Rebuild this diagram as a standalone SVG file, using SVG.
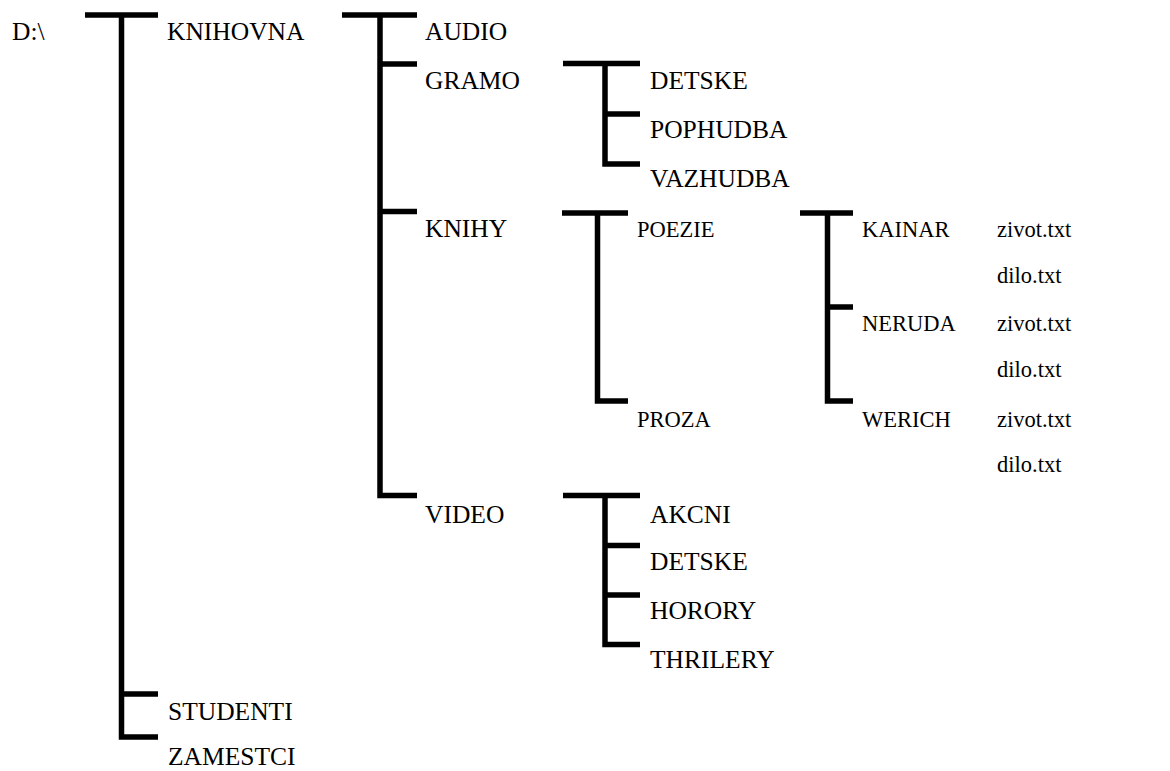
<svg xmlns="http://www.w3.org/2000/svg" width="1170" height="771" viewBox="0 0 1170 771">
  <style>
    .lbl { font-family: 'Liberation Serif', 'Times New Roman', Tinos, 'DejaVu Serif', serif; font-size: 25.5px; fill: #000; }
    .small { font-size: 22.5px; }
    .tree { fill: none; stroke: #000; stroke-width: 5.5; stroke-linejoin: miter; stroke-linecap: butt; }
  </style>
  <rect width="1170" height="771" fill="#fff"/>

  <!-- bracket connectors of the directory tree -->
  <g id="connectors" class="tree">
    <!-- D:\ -->
    <path d="M85 15 H158 M121.5 15 V737 H158 M121.5 694 H158"/>
    <!-- KNIHOVNA -->
    <path d="M342 15 H417 M380 15 V495.5 H417 M380 64 H417 M380 211.5 H417"/>
    <!-- GRAMO -->
    <path d="M563 63.5 H640 M605 63.5 V164 H640 M605 114 H640"/>
    <!-- KNIHY -->
    <path d="M562 213 H628 M597.5 213 V401 H628"/>
    <!-- POEZIE -->
    <path d="M800 213 H853 M827.5 213 V401 H853 M827.5 307 H853"/>
    <!-- VIDEO -->
    <path d="M563 495.5 H640 M605 495.5 V644.5 H640 M605 545.5 H640 M605 595 H640"/>
  </g>

  <g class="lbl" font-family="Liberation Serif, serif">
    <g id="root"><text x="12" y="40">D:\</text></g>
    <g id="knihovna"><text x="167" y="40">KNIHOVNA</text></g>
    <g id="studenti"><text x="168" y="720">STUDENTI</text></g>
    <g id="zamestci"><text x="168" y="765">ZAMESTCI</text></g>

    <g id="audio"><text x="425" y="40">AUDIO</text></g>
    <g id="gramo"><text x="425" y="89">GRAMO</text></g>
    <g id="knihy"><text x="425" y="237">KNIHY</text></g>
    <g id="video"><text x="425" y="523">VIDEO</text></g>

    <g id="gramo-detske"><text x="650" y="89">DETSKE</text></g>
    <g id="pophudba"><text x="650" y="138">POPHUDBA</text></g>
    <g id="vazhudba"><text x="650" y="187">VAZHUDBA</text></g>

    <g id="poezie"><text class="small" x="637" y="237">POEZIE</text></g>
    <g id="proza"><text class="small" x="637" y="427">PROZA</text></g>

    <g id="kainar">
      <text class="small" x="862" y="237">KAINAR</text>
      <text class="small" x="997" y="237">zivot.txt</text>
      <text class="small" x="997" y="283">dilo.txt</text>
    </g>
    <g id="neruda">
      <text class="small" x="862" y="331">NERUDA</text>
      <text class="small" x="997" y="331">zivot.txt</text>
      <text class="small" x="997" y="377">dilo.txt</text>
    </g>
    <g id="werich">
      <text class="small" x="862" y="427">WERICH</text>
      <text class="small" x="997" y="427">zivot.txt</text>
      <text class="small" x="997" y="472">dilo.txt</text>
    </g>

    <g id="akcni"><text x="650" y="523">AKCNI</text></g>
    <g id="video-detske"><text x="650" y="570">DETSKE</text></g>
    <g id="horory"><text x="650" y="619">HORORY</text></g>
    <g id="thrilery"><text x="650" y="668">THRILERY</text></g>
  </g>
</svg>
